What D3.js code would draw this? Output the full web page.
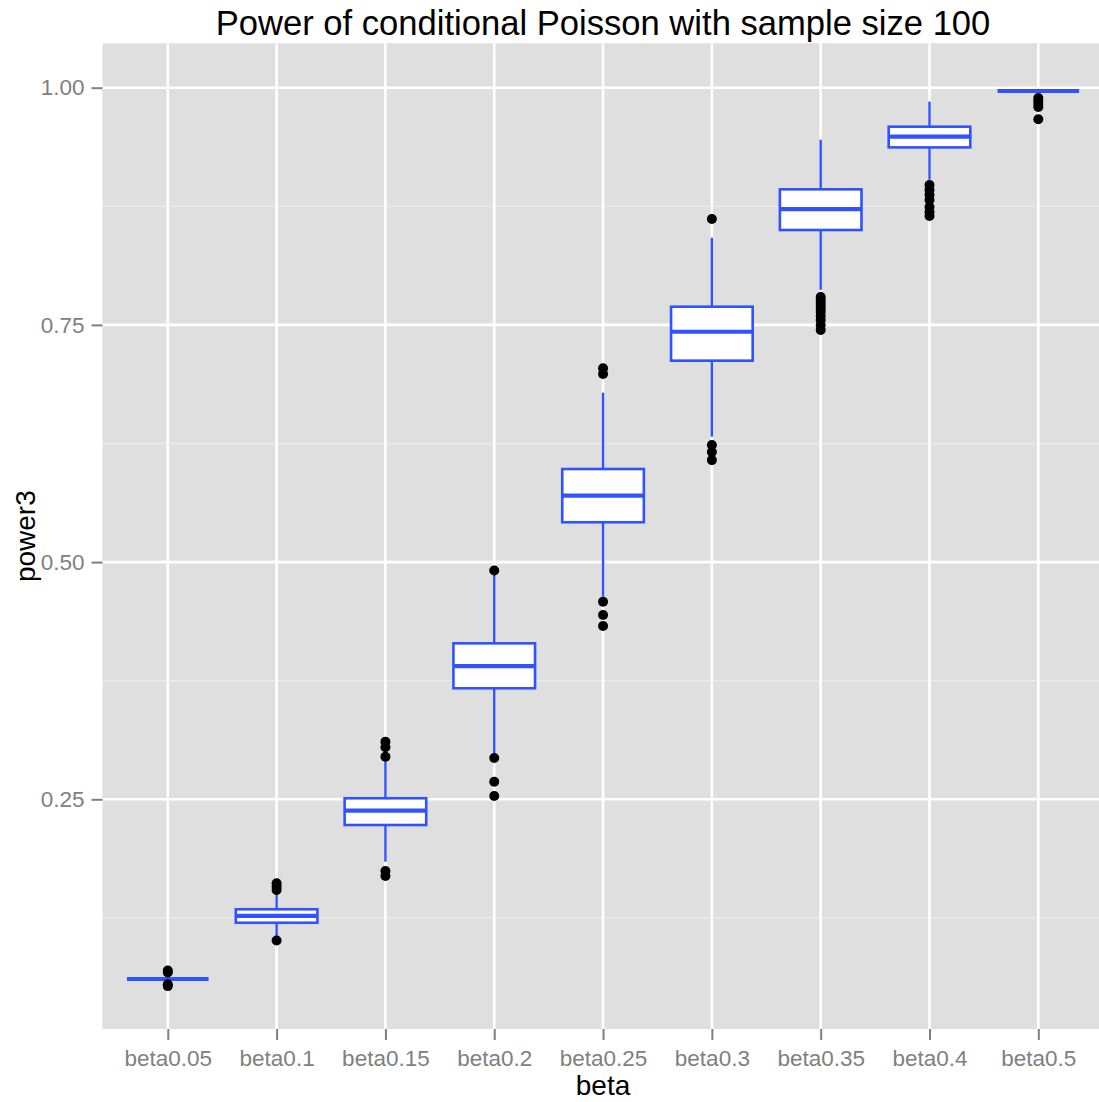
<!DOCTYPE html>
<html>
<head>
<meta charset="utf-8">
<script src="https://cdn.jsdelivr.net/npm/d3@7"></script>
<style>
  html, body { margin: 0; padding: 0; background: #ffffff; }
  svg { display: block; font-family: "Liberation Sans", Arial, Helvetica, sans-serif; }
</style>
</head>
<body>
<svg id="chart" width="1099" height="1102"></svg>
<script>
// Box plot statistics of power3 for each beta level
const categories = ["beta0.05", "beta0.1", "beta0.15", "beta0.2", "beta0.25", "beta0.3", "beta0.35", "beta0.4", "beta0.5"];
const whiskerLow  = [0.0606, 0.1052, 0.1842, 0.2988, 0.4636, 0.6322, 0.7870, 0.9030, 0.9965];
const q1          = [0.0606, 0.1199, 0.2229, 0.3670, 0.5420, 0.7123, 0.8500, 0.9371, 0.9965];
const median      = [0.0606, 0.1271, 0.2380, 0.3904, 0.5700, 0.7428, 0.8720, 0.9484, 0.9965];
const q3          = [0.0606, 0.1341, 0.2511, 0.4144, 0.5981, 0.7692, 0.8929, 0.9589, 0.9965];
const whiskerHigh = [0.0606, 0.1510, 0.2920, 0.4864, 0.6786, 0.8419, 0.9452, 0.9853, 0.9965];
const outliers = [
  [0.0695, 0.0675, 0.0550, 0.0531],
  [0.1615, 0.1580, 0.1545, 0.1012],
  [0.3107, 0.3048, 0.2949, 0.1744, 0.1692],
  [0.4911, 0.2935, 0.2685, 0.2534],
  [0.7043, 0.6983, 0.4583, 0.4443, 0.4327],
  [0.8616, 0.6234, 0.6160, 0.6075],
  [0.7794, 0.7762, 0.7731, 0.7699, 0.7667, 0.7636, 0.7594, 0.7552, 0.7499, 0.7446],
  [0.8975, 0.8922, 0.8869, 0.8816, 0.8743, 0.8690, 0.8647],
  [0.9892, 0.9860, 0.9829, 0.9797, 0.9667]
];
const yTicks = [0.25, 0.50, 0.75, 1.00];
const yMinorTicks = [0.125, 0.375, 0.625, 0.875];
const yDomain = [0.0079, 1.0468];

const chartTitle = "Power of conditional Poisson with sample size 100";
const xTitle = "beta";
const yTitle = "power3";

const boxes = categories.map((c, i) => ({
  cat: c, lo: whiskerLow[i], q1: q1[i], med: median[i], q3: q3[i], hi: whiskerHigh[i], out: outliers[i]
}));

// Layout
const panel = { left: 102.5, right: 1103.6, top: 43.3, bottom: 1029 };
const boxColor = "#3052ff";

const svg = d3.select("#chart");

const x = d3.scalePoint().domain(categories).range([panel.left, panel.right]).padding(0.6);
const y = d3.scaleLinear().domain(yDomain).range([panel.bottom, panel.top]);
const boxW = x.step() * 0.75;

// Panel background
svg.append("rect")
  .attr("x", panel.left).attr("y", panel.top)
  .attr("width", panel.right - panel.left).attr("height", panel.bottom - panel.top)
  .attr("fill", "#dfdfdf");

const grid = svg.append("g");
// Minor horizontal grid
grid.selectAll("line.minor").data(yMinorTicks).join("line")
  .attr("class", "minor")
  .attr("x1", panel.left).attr("x2", panel.right)
  .attr("y1", d => y(d)).attr("y2", d => y(d))
  .attr("stroke", "#ebebeb").attr("stroke-width", 1.3);
// Major horizontal grid
grid.selectAll("line.majorY").data(yTicks).join("line")
  .attr("class", "majorY")
  .attr("x1", panel.left).attr("x2", panel.right)
  .attr("y1", d => y(d)).attr("y2", d => y(d))
  .attr("stroke", "#ffffff").attr("stroke-width", 2.6);
// Major vertical grid
grid.selectAll("line.majorX").data(categories).join("line")
  .attr("class", "majorX")
  .attr("x1", d => x(d)).attr("x2", d => x(d))
  .attr("y1", panel.top).attr("y2", panel.bottom)
  .attr("stroke", "#ffffff").attr("stroke-width", 2.6);

// Box plots
const g = svg.append("g").selectAll("g.box").data(boxes).join("g").attr("class", "box");

// whiskers
g.append("line")
  .attr("x1", d => x(d.cat)).attr("x2", d => x(d.cat))
  .attr("y1", d => y(d.q3)).attr("y2", d => y(d.hi))
  .attr("stroke", boxColor).attr("stroke-width", 2.4);
g.append("line")
  .attr("x1", d => x(d.cat)).attr("x2", d => x(d.cat))
  .attr("y1", d => y(d.q1)).attr("y2", d => y(d.lo))
  .attr("stroke", boxColor).attr("stroke-width", 2.4);

// box body
g.append("rect")
  .attr("x", d => x(d.cat) - boxW / 2).attr("width", boxW)
  .attr("y", d => y(d.q3)).attr("height", d => y(d.q1) - y(d.q3))
  .attr("fill", "#ffffff").attr("stroke", boxColor).attr("stroke-width", 2.6);

// median
g.append("line")
  .attr("x1", d => x(d.cat) - boxW / 2).attr("x2", d => x(d.cat) + boxW / 2)
  .attr("y1", d => y(d.med)).attr("y2", d => y(d.med))
  .attr("stroke", boxColor).attr("stroke-width", 4.2);

// outliers
g.selectAll("circle").data(d => d.out.map(v => ({ cat: d.cat, v }))).join("circle")
  .attr("cx", d => x(d.cat)).attr("cy", d => y(d.v)).attr("r", 5)
  .attr("fill", "#000000");

// Axes
const yAxis = d3.axisLeft(y).tickValues(yTicks).tickFormat(d3.format(".2f")).tickSize(11).tickPadding(7);
const yg = svg.append("g").attr("transform", `translate(${panel.left},0)`).call(yAxis);
const xAxis = d3.axisBottom(x).tickSize(11).tickPadding(6);
const xg = svg.append("g").attr("transform", `translate(0,${panel.bottom})`).call(xAxis);

[yg, xg].forEach(a => {
  a.select(".domain").remove();
  a.selectAll(".tick line").attr("stroke", "#7f7f7f").attr("stroke-width", 2);
  a.selectAll(".tick text").attr("fill", "#808080").attr("font-size", 22.5)
    .attr("font-family", "\"Liberation Sans\", Arial, Helvetica, sans-serif");
});
xg.selectAll(".tick text").attr("dy", null).attr("y", 37);

// Titles
const cx = (panel.left + panel.right) / 2;
svg.append("text").attr("x", cx).attr("y", 35).attr("text-anchor", "middle")
  .attr("font-size", 34.6).attr("fill", "#000").text(chartTitle);
svg.append("text").attr("x", cx).attr("y", 1095).attr("text-anchor", "middle")
  .attr("font-size", 28).attr("fill", "#000").text(xTitle);
svg.append("text")
  .attr("transform", `translate(35,${(panel.top + panel.bottom) / 2}) rotate(-90)`)
  .attr("text-anchor", "middle").attr("font-size", 28).attr("fill", "#000").text(yTitle);
</script>
</body>
</html>
